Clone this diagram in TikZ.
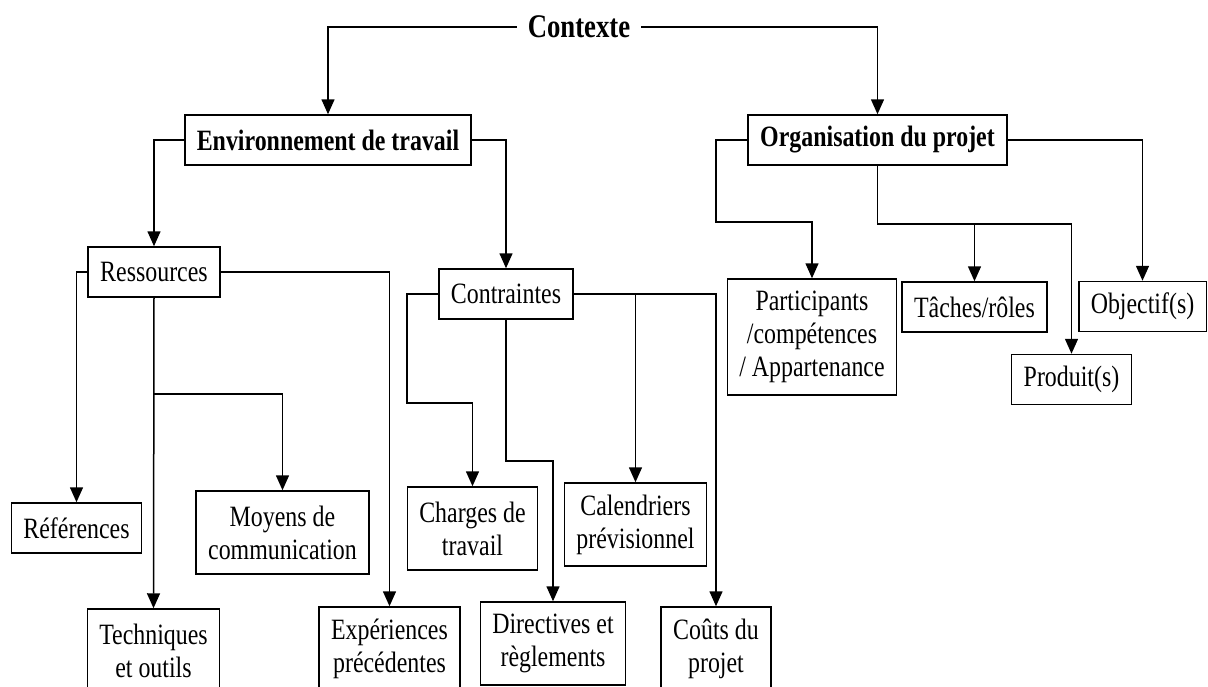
\documentclass[tikz,border=0pt]{standalone}
\usepackage{fontspec}
\setmainfont{Liberation Serif}[FakeStretch=0.81]
\usetikzlibrary{arrows.meta}

\begin{document}
\begin{tikzpicture}[x=1pt,y=-1pt,
  box/.style={draw,line width=1.5pt,align=center,inner xsep=12pt,inner ysep=0pt,
    minimum height=50pt,font=\fontsize{29.5}{33}\selectfont},
  two/.style={box,minimum height=83pt},
  three/.style={box,minimum height=116pt},
  title/.style={box,font=\fontsize{29.5}{33}\selectfont\bfseries},
  arr/.style={line width=1.5pt,-{Triangle[length=15pt,width=13pt]}}]
  \useasboundingbox (0,0) rectangle (1208,686);
  % top levels
  \node[font=\fontsize{33}{36}\selectfont\bfseries,inner xsep=11pt] (ctx) at (579,27) {Contexte};
  \node[title] (env) at (328,140) {Environnement de travail};
  \node[title] (org) at (877.5,140) {Organisation du projet};
  \node[box] (res) at (154,272) {Ressources};
  \node[box] (con) at (506,294) {Contraintes};
  % ressources
  \node[box] (ref) at (76.5,528) {Références};
  \node[two] (moy) at (282.5,532.5) {Moyens de\\communication};
  \node[two] (tec) at (153.5,650.5) {Techniques\\et outils};
  \node[two] (exp) at (389.5,648.5) {Expériences\\précédentes};
  % contraintes
  \node[two] (cha) at (472.5,528.5) {Charges de\\travail};
  \node[two] (cal) at (635.5,524.5) {Calendriers\\prévisionnel};
  \node[two] (dir) at (553,643.5) {Directives et\\règlements};
  \node[two] (cou) at (716,648.5) {Coûts du\\projet};
  % organisation
  \node[three] (par) at (812,337) {Participants\\/compétences\\/ Appartenance};
  \node[box] (tac) at (974.5,307) {Tâches/rôles};
  \node[box] (pro) at (1071.5,379.5) {Produit(s)};
  \node[box] (obj) at (1142.5,306.5) {Objectif(s)};

  \draw[arr] (ctx.west) -| (env.north);
  \draw[arr] (ctx.east) -| (org.north);
  \draw[arr] (env.west) -| (res.north);
  \draw[arr] (env.east) -| (con.north);
  \draw[arr] (res.west) -| (ref.north);
  \draw[arr] (res.south) -- (tec.north);
  \draw[arr] (res.south |- 0,394) -| (moy.north);
  \draw[arr] (res.east) -| (exp.north);
  \draw[arr] (con.west) -| (407,403) -| (cha.north);
  \draw[arr] (con.south) -- (con.south |- 0,461) -| (dir.north);
  \draw[arr] (con.east) -| (cou.north);
  \draw[arr] (con.east -| cal.north) -- (cal.north);
  \draw[arr] (org.west) -| (716,222) -| (par.north);
  \draw[arr] (org.south) -- (org.south |- 0,224) -| (pro.north);
  \draw[arr] (tac.north |- 0,224) -- (tac.north);
  \draw[arr] (org.east) -| (obj.north);
\end{tikzpicture}
\end{document}
